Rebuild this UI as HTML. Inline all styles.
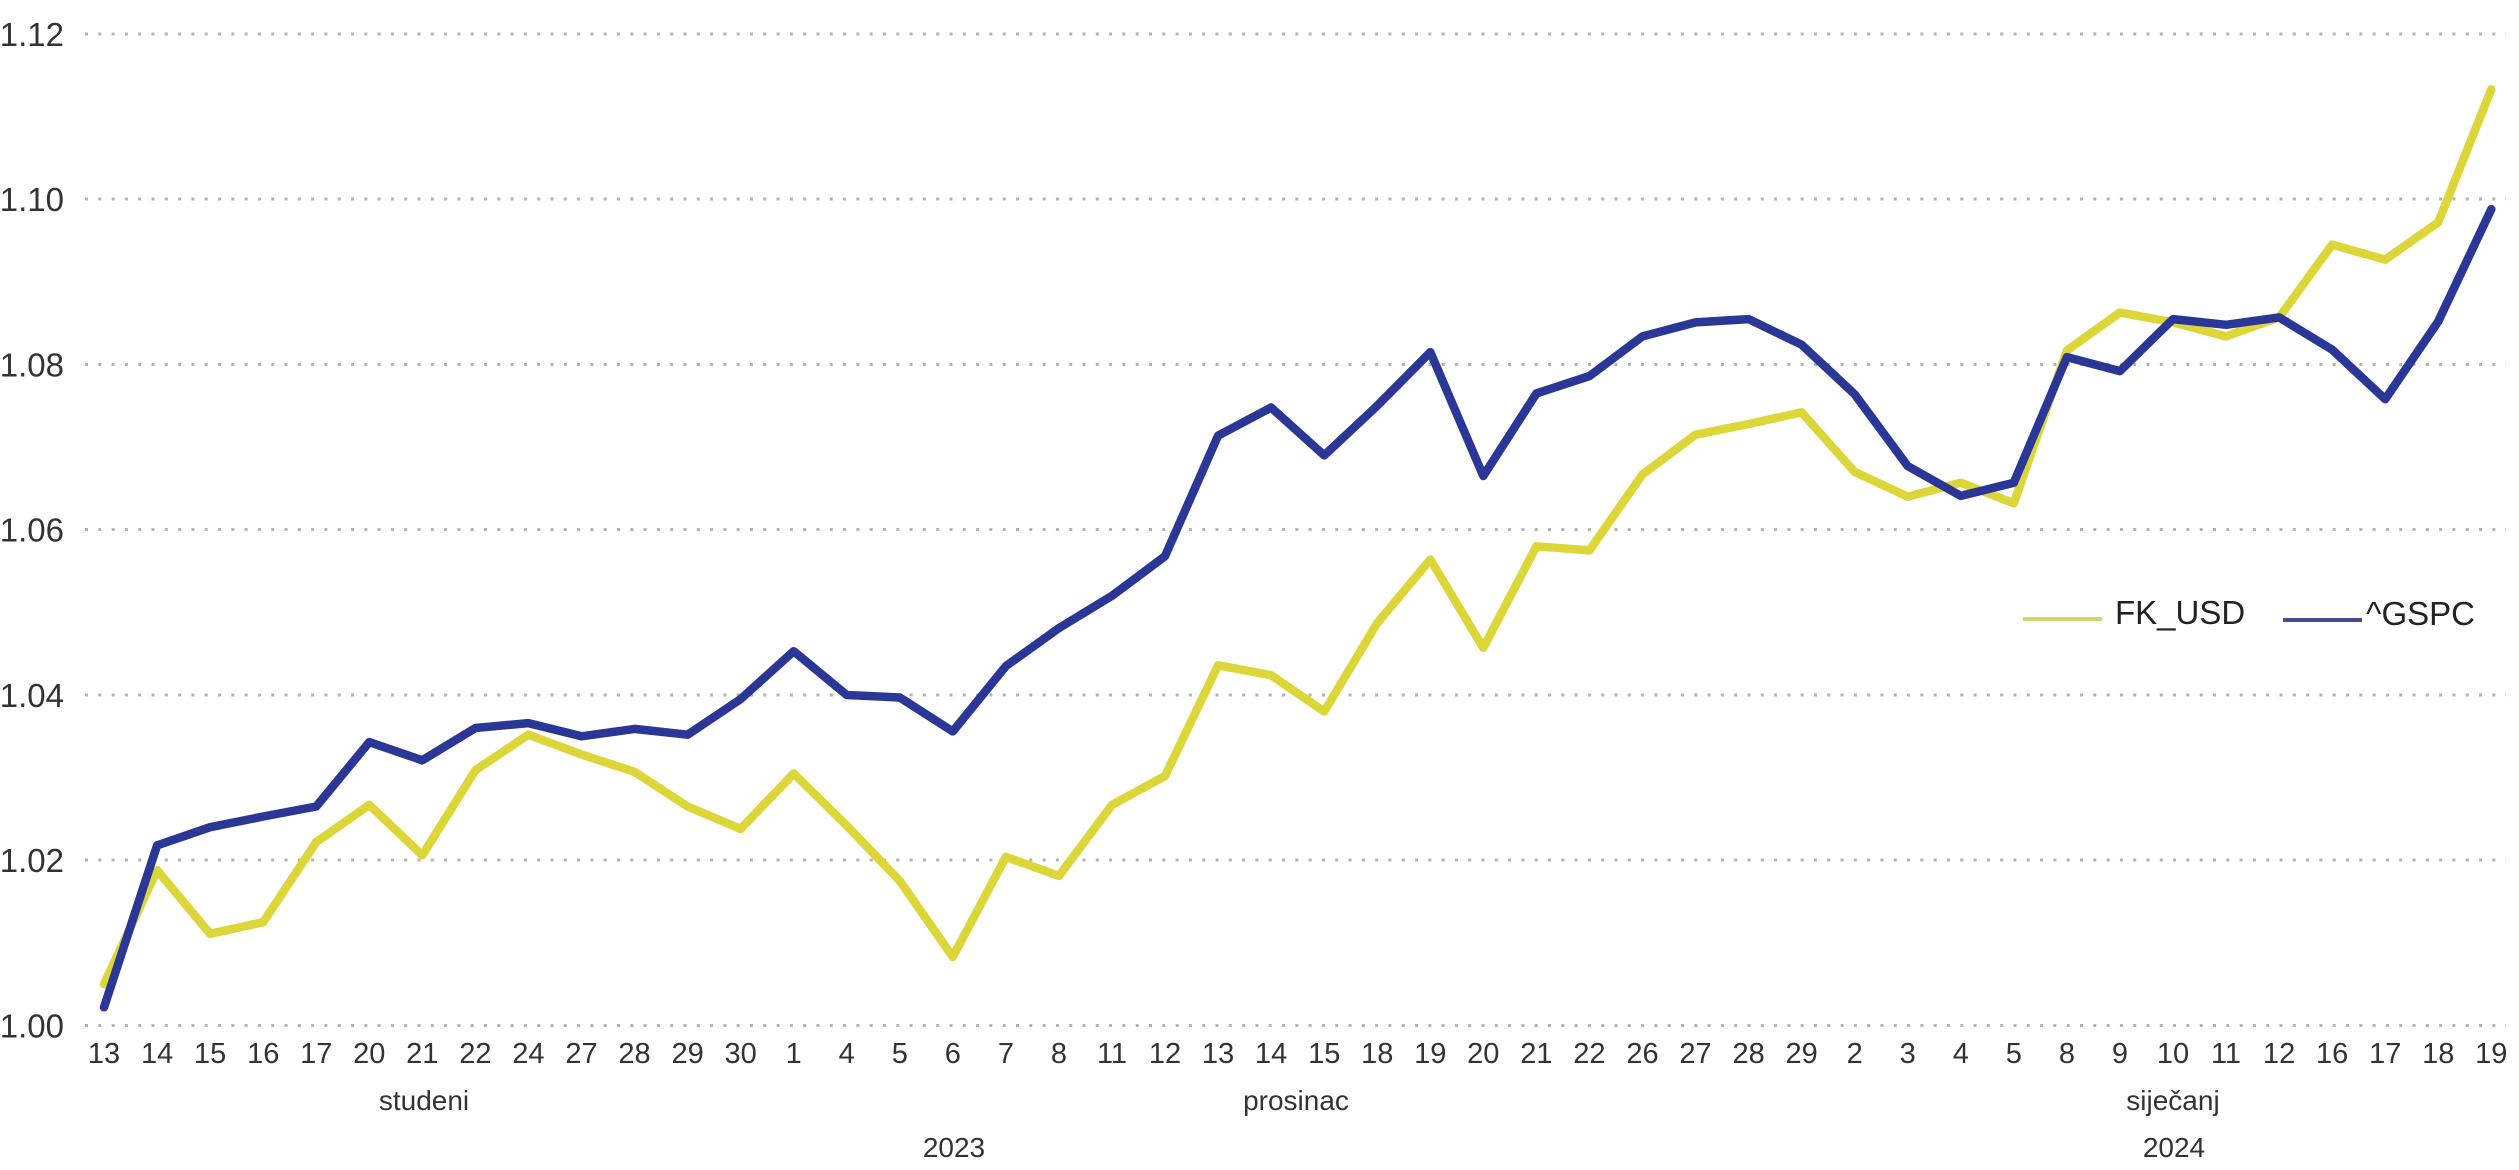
<!DOCTYPE html>
<html>
<head>
<meta charset="utf-8">
<style>
  html, body { margin: 0; padding: 0; background: #ffffff; }
  svg { display: block; }
  text { font-family: "Liberation Sans", "DejaVu Sans", sans-serif; fill: #333333; }
</style>
</head>
<body>
<svg width="2519" height="1170" viewBox="0 0 2519 1170" xmlns="http://www.w3.org/2000/svg">
  <rect width="2519" height="1170" fill="#ffffff"/>
  <g stroke="#b3b3b3" stroke-width="3" stroke-dasharray="3 10.3" fill="none">
    <line x1="85" y1="34" x2="2506" y2="34"/>
    <line x1="85" y1="199" x2="2506" y2="199"/>
    <line x1="85" y1="364.5" x2="2506" y2="364.5"/>
    <line x1="85" y1="529.5" x2="2506" y2="529.5"/>
    <line x1="85" y1="695" x2="2506" y2="695"/>
    <line x1="85" y1="860" x2="2506" y2="860"/>
    <line x1="85" y1="1025.5" x2="2506" y2="1025.5"/>
  </g>
  <g font-size="33" text-anchor="end">
    <text x="64" y="46">1.12</text>
    <text x="64" y="211">1.10</text>
    <text x="64" y="376.5">1.08</text>
    <text x="64" y="541.5">1.06</text>
    <text x="64" y="707">1.04</text>
    <text x="64" y="872">1.02</text>
    <text x="64" y="1037.5">1.00</text>
  </g>
  <g font-size="29" text-anchor="middle" style="fill:#3a3a3a">
    <text x="104" y="1063">13</text>
    <text x="157.1" y="1063">14</text>
    <text x="210.1" y="1063">15</text>
    <text x="263.2" y="1063">16</text>
    <text x="316.2" y="1063">17</text>
    <text x="369.3" y="1063">20</text>
    <text x="422.3" y="1063">21</text>
    <text x="475.4" y="1063">22</text>
    <text x="528.4" y="1063">24</text>
    <text x="581.5" y="1063">27</text>
    <text x="634.5" y="1063">28</text>
    <text x="687.6" y="1063">29</text>
    <text x="740.6" y="1063">30</text>
    <text x="793.7" y="1063">1</text>
    <text x="846.7" y="1063">4</text>
    <text x="899.8" y="1063">5</text>
    <text x="952.8" y="1063">6</text>
    <text x="1005.9" y="1063">7</text>
    <text x="1058.9" y="1063">8</text>
    <text x="1112" y="1063">11</text>
    <text x="1165" y="1063">12</text>
    <text x="1218.1" y="1063">13</text>
    <text x="1271.1" y="1063">14</text>
    <text x="1324.2" y="1063">15</text>
    <text x="1377.2" y="1063">18</text>
    <text x="1430.3" y="1063">19</text>
    <text x="1483.3" y="1063">20</text>
    <text x="1536.4" y="1063">21</text>
    <text x="1589.4" y="1063">22</text>
    <text x="1642.5" y="1063">26</text>
    <text x="1695.5" y="1063">27</text>
    <text x="1748.6" y="1063">28</text>
    <text x="1801.6" y="1063">29</text>
    <text x="1854.7" y="1063">2</text>
    <text x="1907.7" y="1063">3</text>
    <text x="1960.8" y="1063">4</text>
    <text x="2013.8" y="1063">5</text>
    <text x="2066.9" y="1063">8</text>
    <text x="2119.9" y="1063">9</text>
    <text x="2173" y="1063">10</text>
    <text x="2226" y="1063">11</text>
    <text x="2279.1" y="1063">12</text>
    <text x="2332.1" y="1063">16</text>
    <text x="2385.2" y="1063">17</text>
    <text x="2438.2" y="1063">18</text>
    <text x="2491.3" y="1063">19</text>
  </g>
  <g font-size="28" text-anchor="middle" style="fill:#3a3a3a">
    <text x="424" y="1110">studeni</text>
    <text x="1296" y="1110">prosinac</text>
    <text x="2173" y="1110">siječanj</text>
    <text x="954" y="1157">2023</text>
    <text x="2174" y="1157">2024</text>
  </g>
  <polyline fill="none" stroke="#dcd639" stroke-width="8.5" stroke-linejoin="round" stroke-linecap="round"
    points="104,984.2 157.1,870.2 210.1,933.8 263.2,922.2 316.2,842.1 369.3,804.9 422.3,855.3 475.4,770.2 528.4,734.7 581.5,754.5 634.5,771.8 687.6,806.5 740.6,828.9 793.7,773.5 846.7,825.6 899.8,880.9 952.8,956.9 1005.9,856.9 1058.9,875.9 1112,804.9 1165,776 1218.1,665.3 1271.1,675.2 1324.2,711.5 1377.2,623.1 1430.3,559.5 1483.3,647.9 1536.4,546.3 1589.4,550.4 1642.5,474.4 1695.5,434.7 1748.6,424 1801.6,412.4 1854.7,471.9 1907.7,496.7 1960.8,482.7 2013.8,503.3 2066.9,350.5 2119.9,312.5 2173,322.4 2226,336.4 2279.1,317.4 2332.1,244.7 2385.2,259.6 2438.2,222.4 2491.3,89.4"/>
  <polyline fill="none" stroke="#2b3797" stroke-width="8.5" stroke-linejoin="round" stroke-linecap="round"
    points="104,1007.3 157.1,845.4 210.1,827.2 263.2,816.5 316.2,806.5 369.3,742.1 422.3,760.3 475.4,728 528.4,723.1 581.5,736.3 634.5,728.9 687.6,734.7 740.6,699.1 793.7,651.2 846.7,695 899.8,697.5 952.8,731.4 1005.9,666.1 1058.9,628.1 1112,595.8 1165,556.2 1218.1,435.6 1271.1,407.5 1324.2,455.4 1377.2,405.8 1430.3,352.1 1483.3,476 1536.4,393.4 1589.4,376.1 1642.5,336.4 1695.5,322.4 1748.6,319.1 1801.6,344.7 1854.7,394.3 1907.7,466.1 1960.8,495.9 2013.8,482.7 2066.9,357.1 2119.9,371.1 2173,319.1 2226,324.8 2279.1,317.4 2332.1,349.6 2385.2,399.2 2438.2,321.5 2491.3,209.2"/>
  <line x1="2023" y1="619" x2="2102" y2="619" stroke="#d6d36a" stroke-width="4"/>
  <text x="2115" y="624" font-size="33" style="fill:#222">FK_USD</text>
  <line x1="2283" y1="620" x2="2362" y2="620" stroke="#444c90" stroke-width="4"/>
  <text x="2366" y="625" font-size="33" style="fill:#222">^GSPC</text>
</svg>
</body>
</html>
